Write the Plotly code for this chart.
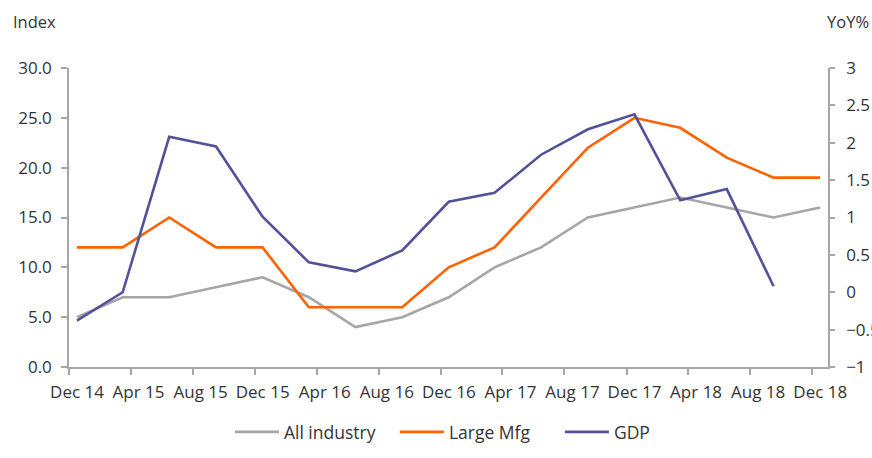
import plotly.graph_objects as go

# Quarter-end months (data plotted at the middle of each month)
quarters = ["2014-12", "2015-03", "2015-06", "2015-09", "2015-12", "2016-03", "2016-06",
            "2016-09", "2016-12", "2017-03", "2017-06", "2017-09", "2017-12", "2018-03",
            "2018-06", "2018-09", "2018-12"]
all_industry = [5, 7, 7, 8, 9, 7, 4, 5, 7, 10, 12, 15, 16, 17, 16, 15, 16]
large_mfg = [12, 12, 15, 12, 12, 6, 6, 6, 10, 12, 17, 22, 25, 24, 21, 19, 19]
gdp_quarters = quarters[:16]
gdp_yoy = [-0.38, 0.0, 2.08, 1.95, 1.01, 0.40, 0.28, 0.56, 1.21, 1.33, 1.84, 2.18,
           2.38, 1.23, 1.38, 0.08]

TEXT = "#333333"
AXIS = "#a6a6a6"
FONT = "Open Sans"

fig = go.Figure()
fig.add_trace(go.Scatter(x=quarters, y=all_industry, name="All industry", mode="lines",
                         xperiod="M1", xperiodalignment="middle",
                         line=dict(color="#a6a6a6", width=2.6)))
fig.add_trace(go.Scatter(x=quarters, y=large_mfg, name="Large Mfg", mode="lines",
                         xperiod="M1", xperiodalignment="middle",
                         line=dict(color="#ff6200", width=2.6)))
fig.add_trace(go.Scatter(x=gdp_quarters, y=gdp_yoy, name="GDP", mode="lines", yaxis="y2",
                         xperiod="M1", xperiodalignment="middle",
                         line=dict(color="#525199", width=2.6)))

fig.update_layout(
    width=872, height=458,
    margin=dict(l=69, r=44, t=68, b=91),
    paper_bgcolor="white", plot_bgcolor="white",
    font=dict(family=FONT, size=17, color=TEXT),
    showlegend=True,
    legend=dict(orientation="h", xref="paper", x=0.212, xanchor="left",
                yref="container", y=0.0568, yanchor="middle",
                font=dict(family=FONT, size=17.5, color=TEXT), itemwidth=44,
                entrywidth=106, entrywidthmode="pixels",
                traceorder="normal"),
    xaxis=dict(type="date", range=["2014-12-01", "2019-01-01"],
               tick0="2014-12-01", dtick="M4", tickformat="%b %y",
               ticks="outside", ticklen=6, tickcolor=AXIS, tickwidth=1.5,
               showline=True, linecolor=AXIS, linewidth=2,
               showgrid=False, zeroline=False, automargin=False,
               ticklabelshift=8, ticklabelstandoff=3,
               tickfont=dict(family=FONT, size=17, color=TEXT)),
    yaxis=dict(range=[0, 30], dtick=5, tickformat=".1f",
               ticks="outside", ticklen=6, tickcolor=AXIS, tickwidth=1.5,
               showline=True, linecolor=AXIS, linewidth=1.5,
               showgrid=False, zeroline=False, automargin=False, ticklabelstandoff=6,
               tickfont=dict(family=FONT, size=17, color=TEXT)),
    yaxis2=dict(range=[-1, 3], dtick=0.5, overlaying="y", side="right",
                ticks="outside", ticklen=5, tickcolor=AXIS, tickwidth=1.5,
                showline=True, linecolor=AXIS, linewidth=1.5,
                showgrid=False, zeroline=False, automargin=False, ticklabelstandoff=8,
                tickfont=dict(family=FONT, size=17, color=TEXT)),
    annotations=[
        dict(text="Index", xref="paper", yref="paper", x=-0.077, y=1.155,
             xanchor="left", yanchor="middle", showarrow=False,
             font=dict(family=FONT, size=16.5, color=TEXT)),
        dict(text="YoY%", xref="paper", yref="paper", x=0.996, y=1.155,
             xanchor="left", yanchor="middle", showarrow=False,
             font=dict(family=FONT, size=16.5, color=TEXT)),
    ],
)

fig.write_html("out.html", config={"displayModeBar": False},
               post_script="document.body.style.margin='0';document.body.style.overflow='hidden';")
